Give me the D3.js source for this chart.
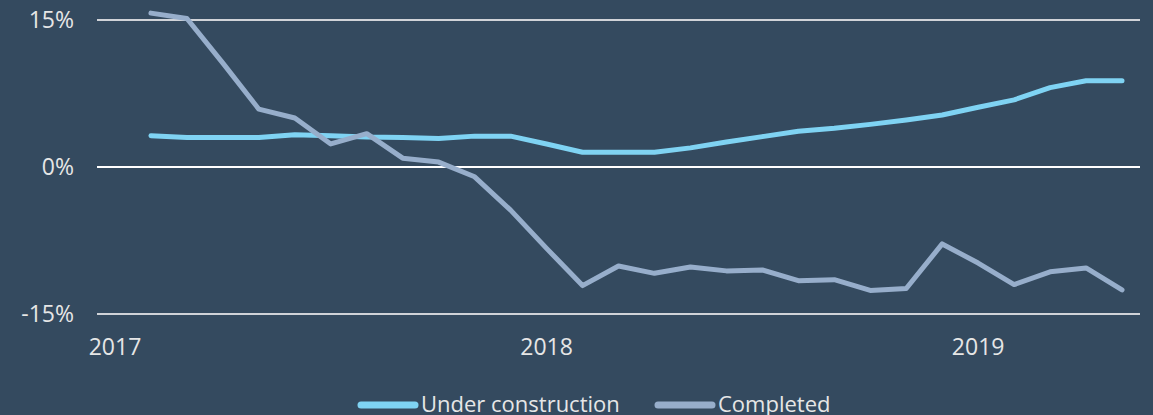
<!DOCTYPE html>
<meta charset="utf-8">
<script src="https://d3js.org/d3.v7.min.js"></script>
<style>
  body { margin: 0; background: #344a5f; }
  text { font-family: "Open Sans", sans-serif; fill: #e6e6e6; }
</style>
<div id="my_dataviz"></div>
<script>
// months Jan 2017 .. May 2019
var months = ["2017-01","2017-02","2017-03","2017-04","2017-05","2017-06","2017-07","2017-08","2017-09","2017-10","2017-11","2017-12",
              "2018-01","2018-02","2018-03","2018-04","2018-05","2018-06","2018-07","2018-08","2018-09","2018-10","2018-11","2018-12",
              "2019-01","2019-02","2019-03","2019-04","2019-05"];
var yearLabels = {"2017-01": "2017", "2018-01": "2018", "2019-01": "2019"};
var yTicks = [-15, 0, 15];

// year-on-year change, %
var underConstruction = [null, 3.2, 3.0, 3.0, 3.0, 3.3, 3.2, 3.05, 3.0, 2.9, 3.15, 3.15,
                         2.35, 1.5, 1.5, 1.5, 1.95, 2.55, 3.1, 3.65, 3.95, 4.35, 4.8, 5.3,
                         6.1, 6.85, 8.1, 8.8, 8.8];
var completed = [null, 15.7, 15.15, 10.6, 5.9, 5.0, 2.35, 3.4, 0.9, 0.5, -1.0, -4.4,
                 -8.3, -12.1, -10.1, -10.85, -10.2, -10.6, -10.5, -11.6, -11.5, -12.6, -12.4, -7.85,
                 -9.8, -12.0, -10.7, -10.3, -12.55];

var seriesNames = ["Under construction", "Completed"];
var seriesColors = ["#7fd3f3", "#97aecb"];

var W = 1153, H = 415;
var margin = {top: 20, right: 13, bottom: 101, left: 97},
    width = W - margin.left - margin.right,
    height = H - margin.top - margin.bottom;

var svg = d3.select("#my_dataviz")
  .append("svg")
    .attr("width", W)
    .attr("height", H)
  .append("g")
    .attr("transform", "translate(" + margin.left + "," + margin.top + ")");

var x = d3.scaleBand()
  .domain(months)
  .range([0, width]);

var y = d3.scaleLinear()
  .domain([-15, 15])
  .range([height, 0]);

// gridlines
svg.selectAll("line.grid")
  .data(yTicks)
  .enter()
  .append("line")
    .attr("class", "grid")
    .attr("x1", 0)
    .attr("x2", width)
    .attr("y1", function(d) { return y(d); })
    .attr("y2", function(d) { return y(d); })
    .attr("stroke", function(d) { return d === 0 ? "#ffffff" : "#d0d3d8"; })
    .attr("stroke-width", 2);

// y labels
svg.selectAll("text.ylab")
  .data(yTicks)
  .enter()
  .append("text")
    .attr("class", "ylab")
    .attr("x", -23)
    .attr("y", function(d) { return y(d); })
    .attr("dy", "0.36em")
    .attr("text-anchor", "end")
    .style("font-size", "23px")
    .text(function(d) { return d + "%"; });

// x labels
svg.selectAll("text.xlab")
  .data(months.filter(function(m) { return yearLabels[m]; }))
  .enter()
  .append("text")
    .attr("class", "xlab")
    .attr("x", function(d) { return x(d) + x.bandwidth() / 2; })
    .attr("y", height + 41)
    .attr("text-anchor", "middle")
    .style("font-size", "23px")
    .text(function(d) { return yearLabels[d]; });

// lines
var line = d3.line()
  .defined(function(d) { return d.v !== null; })
  .x(function(d) { return x(d.m) + x.bandwidth() / 2; })
  .y(function(d) { return y(d.v); });

[underConstruction, completed].forEach(function(vals, i) {
  var data = months.map(function(m, j) { return {m: m, v: vals[j]}; });
  svg.append("path")
    .datum(data)
    .attr("fill", "none")
    .attr("stroke", seriesColors[i])
    .attr("stroke-width", 5)
    .attr("stroke-linecap", "round")
    .attr("stroke-linejoin", "round")
    .attr("d", line);
});

// legend
var legend = d3.select("svg").append("g");
var legendX = [358, 655];
seriesNames.forEach(function(name, i) {
  legend.append("line")
    .attr("x1", legendX[i] + 3)
    .attr("x2", legendX[i] + 57)
    .attr("y1", 405)
    .attr("y2", 405)
    .attr("stroke", seriesColors[i])
    .attr("stroke-width", 7)
    .attr("stroke-linecap", "round");
  legend.append("text")
    .attr("x", legendX[i] + 63)
    .attr("y", 412)
    .style("font-size", "22px")
    .text(name);
});
</script>
